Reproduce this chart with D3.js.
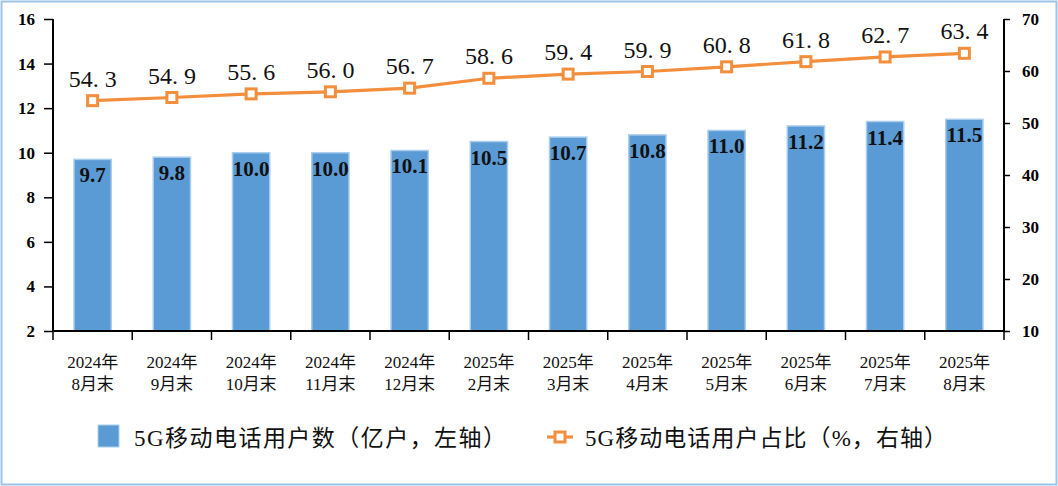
<!DOCTYPE html>
<html><head><meta charset="utf-8">
<script src="https://cdn.jsdelivr.net/npm/d3@7"></script>
<style>
body{margin:0;background:#fff;}
svg{display:block;}
</style></head>
<body>
<svg id="c" width="1058" height="486"></svg>
<script>
const years = ["2024年","2024年","2024年","2024年","2024年","2025年","2025年","2025年","2025年","2025年","2025年","2025年"];
const months = ["8月末","9月末","10月末","11月末","12月末","2月末","3月末","4月末","5月末","6月末","7月末","8月末"];
const users = [9.7,9.8,10.0,10.0,10.1,10.5,10.7,10.8,11.0,11.2,11.4,11.5];
const share = [54.3,54.9,55.6,56.0,56.7,58.6,59.4,59.9,60.8,61.8,62.7,63.4];
const leftTicks = [2,4,6,8,10,12,14,16];
const rightTicks = [10,20,30,40,50,60,70];
const legendLabels = ["5G移动电话用户数（亿户，左轴）","5G移动电话用户占比（%，右轴）"];

const svg = d3.select("#c");
const serif = "'Liberation Serif','Noto Sans CJK SC',serif";
const L = 53, R = 1004, T = 19, B = 331;
const idx = d3.range(users.length);
const x = d3.scaleBand().domain(idx).range([L, R]).paddingInner(0.53).paddingOuter(0.265);
const xb = d3.scaleBand().domain(idx).range([L, R]);
const yL = d3.scaleLinear().domain([2,16]).range([B, T]);
const yR = d3.scaleLinear().domain([10,70]).range([B, T]);

// frame
svg.append("rect").attr("x",1.5).attr("y",1.5).attr("width",1055).attr("height",483)
  .attr("fill","none").attr("stroke","#9dc3e6").attr("stroke-width",2);

// bars
svg.append("g").selectAll("rect").data(idx).join("rect")
  .attr("x", i => x(i)).attr("width", x.bandwidth())
  .attr("y", i => yL(users[i])).attr("height", i => B - yL(users[i]))
  .attr("fill","#5b9bd5").attr("stroke","#a9cdee").attr("stroke-width",1.5);

// bar labels
svg.append("g").selectAll("text").data(idx).join("text")
  .attr("x", i => x(i) + x.bandwidth()/2).attr("y", i => yL(users[i]) + 23)
  .attr("text-anchor","middle").attr("font-family",serif).attr("font-weight","bold")
  .attr("font-size",21).attr("fill","#111").text(i => users[i].toFixed(1));

// axes
const axL = svg.append("g").attr("transform",`translate(${L},0)`)
  .call(d3.axisLeft(yL).tickValues(leftTicks).tickSize(9).tickPadding(9).tickFormat(d3.format("d")));
const axR = svg.append("g").attr("transform",`translate(${R},0)`)
  .call(d3.axisRight(yR).tickValues(rightTicks).tickSize(6).tickPadding(12).tickFormat(d3.format("d")));
[axL, axR].forEach(a => {
  a.select(".domain").attr("stroke","#000").attr("stroke-width",2).attr("d", `M0,${T}V${B}`);
  a.selectAll(".tick line").attr("stroke","#000").attr("stroke-width",1.5);
  a.selectAll(".tick text").attr("font-family",serif).attr("font-weight","bold").attr("font-size",17).attr("fill","#000");
});
// x axis
svg.append("line").attr("x1",L).attr("x2",R).attr("y1",B).attr("y2",B).attr("stroke","#000").attr("stroke-width",2);
const xt = d3.range(users.length+1).map(k => L + k*xb.bandwidth());
svg.append("g").selectAll("line").data(xt).join("line")
  .attr("x1",d=>d).attr("x2",d=>d).attr("y1",B).attr("y2",B+9).attr("stroke","#000").attr("stroke-width",1.5);
const xl = svg.append("g").selectAll("text").data(idx).join("text")
  .attr("x", i => xb(i) + xb.bandwidth()/2).attr("text-anchor","middle")
  .attr("font-family",serif).attr("font-size",17).attr("fill","#111");
xl.append("tspan").attr("x", i => xb(i) + xb.bandwidth()/2).attr("y",368).text(i => years[i]);
xl.append("tspan").attr("x", i => xb(i) + xb.bandwidth()/2).attr("y",390).text(i => months[i]);

// line
const cx = i => xb(i) + xb.bandwidth()/2;
svg.append("path").datum(idx)
  .attr("d", d3.line().x(cx).y(i => yR(share[i])))
  .attr("fill","none").attr("stroke","#f28e3c").attr("stroke-width",3.2);
svg.append("g").selectAll("rect").data(idx).join("rect")
  .attr("x", i => cx(i)-5).attr("y", i => yR(share[i])-5).attr("width",10).attr("height",10)
  .attr("fill","#fff").attr("stroke","#f28e3c").attr("stroke-width",3);
svg.append("g").selectAll("text").data(idx).join("text")
  .attr("x", cx).attr("y", i => yR(share[i]) - 14)
  .attr("text-anchor","middle").attr("font-family",serif).attr("font-size",24)
  .attr("fill","#111").text(i => share[i].toFixed(1).replace(".",". "));

// legend
svg.append("rect").attr("x",98).attr("y",425).attr("width",21).attr("height",22).attr("fill","#5b9bd5").attr("stroke","#a9cdee");
svg.append("text").attr("x",134).attr("y",446).attr("font-family",serif).attr("font-size",23)
  .attr("textLength",372).attr("lengthAdjust","spacing").attr("fill","#111").text(legendLabels[0]);
svg.append("line").attr("x1",547).attr("x2",573).attr("y1",437).attr("y2",437).attr("stroke","#f28e3c").attr("stroke-width",3.2);
svg.append("rect").attr("x",555).attr("y",432).attr("width",10).attr("height",10).attr("fill","#fff").attr("stroke","#f28e3c").attr("stroke-width",3);
svg.append("text").attr("x",585).attr("y",446).attr("font-family",serif).attr("font-size",23)
  .attr("textLength",362).attr("lengthAdjust","spacing").attr("fill","#111").text(legendLabels[1]);
</script>
</body></html>
